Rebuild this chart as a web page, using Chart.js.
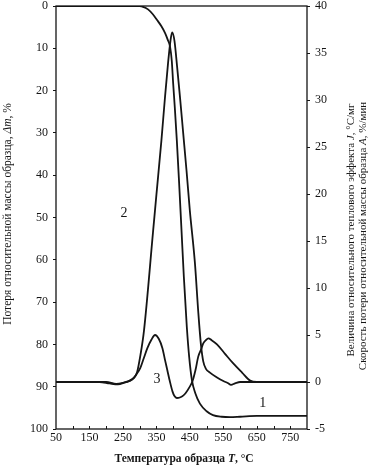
<!DOCTYPE html>
<html>
<head>
<meta charset="utf-8">
<script src="https://cdn.jsdelivr.net/npm/chart.js@4.4.1/dist/chart.umd.min.js"></script>
<style>
  html, body { margin: 0; padding: 0; background: #fff; }
  #chart { display: block; }
</style>
</head>
<body>
<canvas id="chart" width="374" height="468"></canvas>
<script>
// curve 1 - relative mass loss (left axis, %)
const tgTemp = [50, 280, 300, 310, 325, 340, 352, 365, 376, 384, 391, 396, 400, 405, 411, 418, 425, 432, 441, 448, 456, 466, 480, 500, 519, 545, 570, 600, 650, 800];
const tgLoss = [0, 0, 0.05, 0.2, 0.8, 2, 3.3, 4.8, 6.4, 8, 9.7, 13, 18.2, 24, 31.7, 42, 53, 64, 76, 83, 88.4, 91.5, 94, 95.8, 96.7, 97.1, 97.2, 97.1, 96.9, 96.9];

// curve 2 - relative heat effect J (right axis, °C/mg)
const dtaTemp = [50, 200, 230, 250, 270, 282, 292, 302, 313, 340, 350, 365, 375, 385, 392, 397, 404, 412, 420, 430, 440, 450, 465, 475, 483, 490, 498, 510, 530, 550, 563, 573, 585, 600, 800];
const dtaHeat = [0, 0, -0.2, -0.1, 0.1, 0.4, 1.0, 2.8, 5.5, 16, 19.9, 25.7, 30, 34, 36.3, 37.2, 36.3, 33.5, 30.5, 26.5, 22.5, 18.2, 12.7, 7.5, 4, 2.2, 1.4, 1.0, 0.5, 0.1, -0.1, -0.3, -0.15, 0, 0];

// curve 3 - mass loss rate A (right axis, %/min)
const dtgTemp = [50, 180, 210, 235, 255, 270, 281, 292, 302, 312, 323, 335, 346, 357, 368, 376, 383, 390, 398, 404, 411, 420, 430, 437, 448, 458, 467, 475, 484, 490, 498, 505, 515, 531, 555, 579, 606, 630, 650, 800];
const dtgRate = [0, 0, -0.15, -0.25, -0.05, 0.15, 0.4, 0.9, 1.5, 2.5, 3.6, 4.5, 5.0, 4.6, 3.6, 2.3, 1.2, 0.1, -1.0, -1.5, -1.7, -1.65, -1.45, -1.2, -0.6, 0.1, 1.3, 2.7, 3.5, 4.1, 4.45, 4.65, 4.45, 4.0, 3.0, 2.0, 1.0, 0.15, 0, 0];

const xTicks = [50, 150, 250, 350, 450, 550, 650, 750];
const xMinorTicks = [100, 150, 200, 250, 300, 350, 400, 450, 500, 550, 600, 650, 700, 750];

// curve number labels: [text, temperature, mass-loss value]
const curveLabels = [['1', 668, 94], ['2', 253, 49], ['3', 352, 88.3]];

const xTitle = ['Температура образца ', 'T', ', °С'];
const yTitle = ['Потеря относительной массы образца, ', 'Δm', ', %'];
const y1TitleA = ['Величина относительного теплового эффекта ', 'J', ', °С/мг'];
const y1TitleB = ['Скорость потери относительной массы образца ', 'A', ', %/мин'];

const INK = '#151515';
const SERIF = '"Liberation Serif", "DejaVu Serif", serif';

function pts(xs, ys) {
    return xs.map((x, i) => ({ x: x, y: ys[i] }));
}

// draw a line of text made of plain / italic pieces, centred on (x, y)
function drawRich(ctx, pieces, x, y, angle, size, bold) {
    const w = bold ? 'bold ' : '';
    const fonts = pieces.map((p, i) => (i % 2 === 1 ? 'italic ' : '') + w + size + 'px ' + SERIF);
    ctx.save();
    ctx.translate(x, y);
    ctx.rotate(angle);
    ctx.textBaseline = 'middle';
    ctx.textAlign = 'left';
    let total = 0;
    const widths = pieces.map((p, i) => {
        ctx.font = fonts[i];
        const m = ctx.measureText(p).width;
        total += m;
        return m;
    });
    let cx = -total / 2;
    pieces.forEach((p, i) => {
        ctx.font = fonts[i];
        ctx.fillText(p, cx, 0);
        cx += widths[i];
    });
    ctx.restore();
}

const decorPlugin = {
    id: 'decor',
    afterDraw: (chart) => {
        const ctx = chart.ctx;
        const area = chart.chartArea;
        const xs = chart.scales.x;
        const ys = chart.scales.y;
        ctx.save();
        ctx.strokeStyle = INK;
        ctx.lineWidth = 1.3;
        ctx.strokeRect(area.left, area.top, area.right - area.left, area.bottom - area.top);

        // small inward ticks on the temperature axis
        ctx.lineWidth = 1;
        ctx.beginPath();
        xMinorTicks.forEach(v => {
            const px = Math.round(xs.getPixelForValue(v)) + 0.5;
            ctx.moveTo(px, area.bottom);
            ctx.lineTo(px, area.bottom - 3);
        });
        ctx.stroke();

        ctx.fillStyle = INK;
        ctx.font = '14px ' + SERIF;
        ctx.textAlign = 'center';
        ctx.textBaseline = 'middle';
        curveLabels.forEach(([t, xv, yv]) => {
            ctx.fillText(t, xs.getPixelForValue(xv), ys.getPixelForValue(yv));
        });

        drawRich(ctx, xTitle, 184, 459, 0, 11.5, true);
        drawRich(ctx, yTitle, 8, 214, -Math.PI / 2, 11.5, false);
        drawRich(ctx, y1TitleA, 351, 230, -Math.PI / 2, 11, false);
        drawRich(ctx, y1TitleB, 363, 236, -Math.PI / 2, 11, false);
        ctx.restore();
    }
};

const tickFont = { family: SERIF, size: 12 };

const lineStyle = {
    borderColor: INK,
    borderWidth: 1.8,
    pointRadius: 0,
    fill: false,
    cubicInterpolationMode: 'monotone'
};

// keep the vertical axes from pushing the plot down
function fixPad(scale, width) {
    scale.width = width;
    scale.paddingTop = 6;
    scale.paddingBottom = 0;
}

new Chart(document.getElementById('chart'), {
    type: 'line',
    data: {
        datasets: [
            { label: '1', data: pts(tgTemp, tgLoss), yAxisID: 'y', ...lineStyle },
            { label: '2', data: pts(dtaTemp, dtaHeat), yAxisID: 'y1', ...lineStyle },
            { label: '3', data: pts(dtgTemp, dtgRate), yAxisID: 'y1', ...lineStyle }
        ]
    },
    options: {
        responsive: false,
        animation: false,
        devicePixelRatio: 1,
        layout: { padding: 0 },
        plugins: {
            legend: { display: false },
            tooltip: { enabled: false }
        },
        scales: {
            x: {
                type: 'linear',
                min: 50,
                max: 800,
                afterBuildTicks: (scale) => { scale.ticks = xTicks.map(v => ({ value: v })); },
                afterFit: (scale) => { scale.height = 39; },
                ticks: { color: INK, font: tickFont, padding: 2, maxRotation: 0, autoSkip: false },
                grid: { drawOnChartArea: false, drawTicks: false },
                border: { display: false }
            },
            y: {
                position: 'left',
                reverse: true,
                min: 0,
                max: 100,
                afterFit: (scale) => fixPad(scale, 56),
                ticks: { stepSize: 10, color: INK, font: tickFont, padding: 5 },
                grid: { drawOnChartArea: false, tickLength: 3, color: INK },
                border: { display: false }
            },
            y1: {
                position: 'right',
                min: -5,
                max: 40,
                afterFit: (scale) => fixPad(scale, 67),
                ticks: { stepSize: 5, color: INK, font: tickFont, padding: 5 },
                grid: { drawOnChartArea: false, tickLength: 3, color: INK },
                border: { display: false }
            }
        }
    },
    plugins: [decorPlugin]
});
</script>
</body>
</html>
